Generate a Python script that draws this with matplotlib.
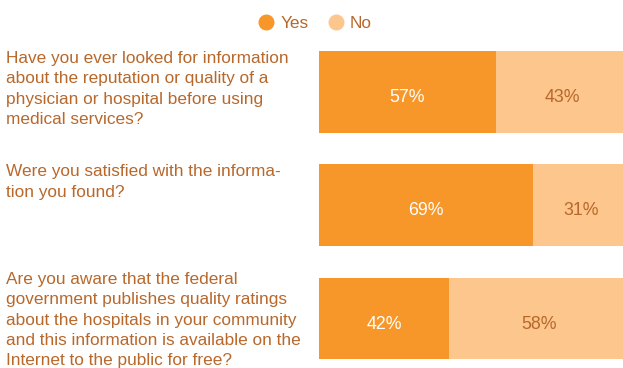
import numpy as np
import matplotlib.pyplot as plt
from matplotlib.lines import Line2D
from matplotlib.transforms import blended_transform_factory

plt.rcParams['font.family'] = ['Liberation Sans', 'DejaVu Sans']

questions = [
    'Have you ever looked for information\nabout the reputation or quality of a\nphysician or hospital before using\nmedical services?',
    'Were you satisfied with the informa-\ntion you found?',
    'Are you aware that the federal\ngovernment publishes quality ratings\nabout the hospitals in your community\nand this information is available on the\nInternet to the public for free?',
]
yes_pct = [57, 69, 42]
no_pct = [43, 31, 58]

yes_color = '#F7972A'
no_color = '#FCC68C'
text_color = '#B8682B'

fig = plt.figure(figsize=(6.23, 3.68), dpi=100)
# bars run past the right edge of the figure
ax = fig.add_axes([319 / 623, 0, 310 / 623, 1])

ypos = np.arange(len(questions))
bar_h = 0.72
ax.barh(ypos, yes_pct, height=bar_h, color=yes_color, linewidth=0)
ax.barh(ypos, no_pct, left=yes_pct, height=bar_h, color=no_color, linewidth=0)
ax.set_xlim(0, 100)
ax.set_ylim(2.437, -0.812)
ax.axis('off')

for i in range(len(questions)):
    ax.text(yes_pct[i] / 2, ypos[i] + 0.05, '%d%%' % yes_pct[i], ha='center', va='center',
            color='white', fontsize=12.8)
    ax.text(yes_pct[i] + no_pct[i] / 2, ypos[i] + 0.05, '%d%%' % no_pct[i], ha='center',
            va='center', color=text_color, fontsize=12.8)

# question text to the left of each bar
trans = blended_transform_factory(fig.transFigure, ax.transData)
nudge = [0.0, 0.0, -0.05]
for i, q in enumerate(questions):
    ax.text(6 / 623, ypos[i] - bar_h / 2 + nudge[i], q, transform=trans, ha='left', va='top',
            color=text_color, fontsize=12.4, linespacing=1.44, clip_on=False)

handles = [
    Line2D([], [], marker='o', linestyle='', markersize=10.5, color=yes_color, label='Yes'),
    Line2D([], [], marker='o', linestyle='', markersize=10.5, color=no_color, label='No'),
]
leg = fig.legend(handles=handles, loc='upper center', ncol=2, frameon=False,
                 bbox_to_anchor=(0.505, 1.0), fontsize=12.4, handletextpad=0.3,
                 columnspacing=1.1, handlelength=1.0)
for t in leg.get_texts():
    t.set_color(text_color)

fig.savefig('out.png', dpi=100)
